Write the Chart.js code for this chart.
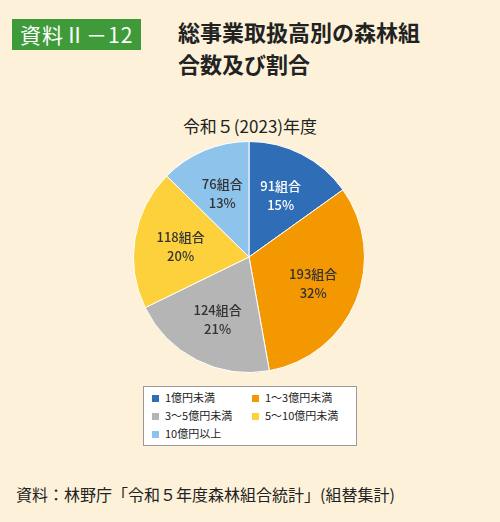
<!DOCTYPE html>
<html lang="ja">
<head>
<meta charset="UTF-8" />
<title>総事業取扱高別の森林組合数及び割合</title>
<style>
  body { margin:0; width:500px; height:522px; background:#fdf2d9; font-family:"Noto Sans CJK JP", sans-serif; position:relative; overflow:hidden; }
  .tag { position:absolute; left:12px; top:19px; background:#3f9a3a; color:#fff; font-size:21px; padding:0 8px; height:31px; line-height:31px; letter-spacing:1px; }
  .title { position:absolute; left:178px; top:15px; font-size:22px; font-weight:bold; line-height:32px; color:#222; }
  .sub { position:absolute; left:0; width:500px; top:113px; text-align:center; font-size:17px; color:#222; }
  #wrap { position:absolute; left:133px; top:141px; width:232px; height:232px; }
  .legend { position:absolute; left:143px; top:386px; width:212px; height:58px; background:#fff; border:1px solid #999; font-size:11px; color:#222; }
  .legend div { position:absolute; height:14px; line-height:14px; }
  .legend span { display:inline-block; width:7px; height:7px; margin-right:6px; vertical-align:0px; }
  .src { position:absolute; left:16px; top:482px; font-size:16px; color:#222; }
</style>
</head>
<body>
<div class="tag">資料Ⅱ－12</div>
<div class="title">総事業取扱高別の森林組<br>合数及び割合</div>
<div class="sub">令和５(2023)年度</div>
<div id="wrap"><canvas id="myChart"></canvas></div>
<div class="legend" id="legend"></div>
<div class="src">資料：林野庁「令和５年度森林組合統計」(組替集計)</div>

<script src="https://cdn.jsdelivr.net/npm/chart.js"></script>
<script>
  const categories = ["1億円未満", "1～3億円未満", "3～5億円未満", "5～10億円未満", "10億円以上"];
  const counts = [91, 193, 124, 118, 76];
  const percents = [15, 32, 21, 20, 13];
  const colors = ["#2f6db6", "#f39800", "#b5b5b5", "#fcd13c", "#8ec4ec"];
  const labelColors = ["#fff", "#333", "#333", "#333", "#333"];

  // legend box
  const legend = document.getElementById("legend");
  const pos = [[8, 5], [108, 5], [8, 23], [108, 23], [8, 41]];
  categories.forEach((c, i) => {
    const d = document.createElement("div");
    d.style.left = pos[i][0] + "px";
    d.style.top = pos[i][1] - 2 + "px";
    d.innerHTML = '<span style="background:' + colors[i] + '"></span>' + c;
    legend.appendChild(d);
  });

  const sliceLabels = {
    id: "sliceLabels",
    afterDatasetsDraw(chart) {
      const ctx = chart.ctx;
      const meta = chart.getDatasetMeta(0);
      ctx.save();
      ctx.font = "500 13px 'Noto Sans CJK JP'";
      ctx.textAlign = "center";
      ctx.textBaseline = "middle";
      meta.data.forEach((arc, i) => {
        const a = (arc.startAngle + arc.endAngle) / 2;
        const r = arc.outerRadius * 0.6;
        const x = arc.x + Math.cos(a) * r;
        const y = arc.y + Math.sin(a) * r;
        ctx.fillStyle = labelColors[i];
        ctx.fillText(counts[i] + "組合", x, y - 9);
        ctx.fillText(percents[i] + "%", x, y + 10);
      });
      ctx.restore();
    }
  };

  new Chart(document.getElementById("myChart"), {
    type: "pie",
    data: {
      labels: categories,
      datasets: [{ data: counts, backgroundColor: colors, borderColor: "#fff", borderWidth: 1 }]
    },
    options: {
      responsive: true,
      maintainAspectRatio: false,
      animation: false,
      layout: { padding: 0 },
      plugins: { legend: { display: false }, tooltip: { enabled: false } }
    },
    plugins: [sliceLabels]
  });
</script>
</body>
</html>
